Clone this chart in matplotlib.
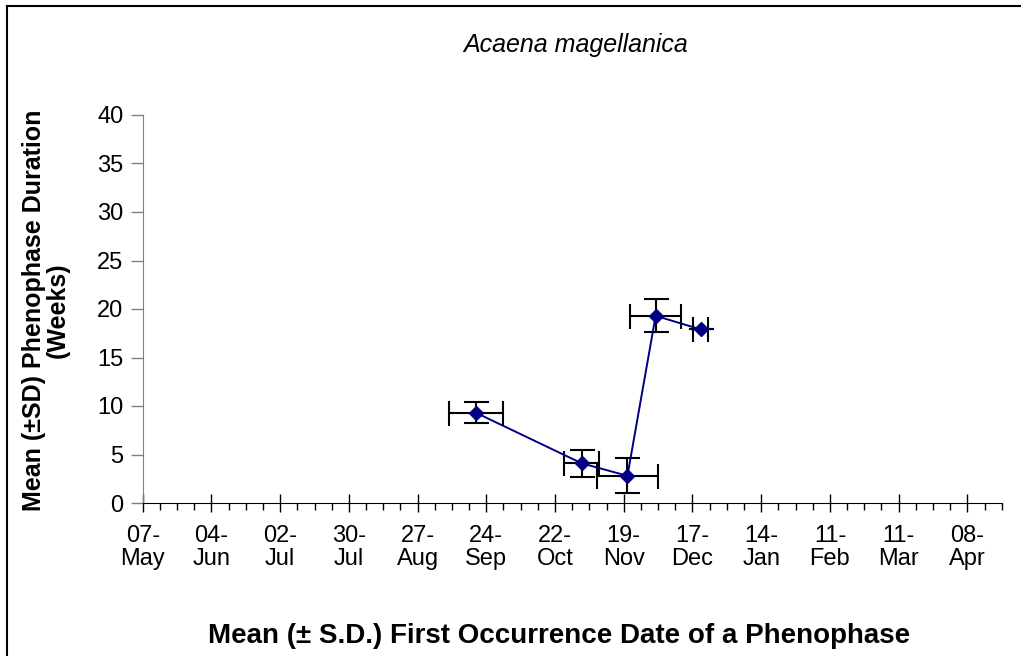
import matplotlib
matplotlib.use("Agg")
import matplotlib.pyplot as plt
from matplotlib.lines import Line2D
from matplotlib.ticker import FixedLocator, MultipleLocator

plt.rcParams["font.family"] = ["Liberation Sans", "DejaVu Sans"]

# mean first occurrence, days after 07-May, with SD
first_day = [135.8, 178.8, 197.5, 209.0, 227.3]
first_day_sd = [10.9, 7.1, 12.4, 10.5, 3.1]
# mean phenophase duration, weeks, with SD
duration = [9.3, 4.1, 2.8, 19.3, 17.9]
duration_sd = [1.1, 1.4, 1.8, 1.7, 0.0]

tick_days = [0, 28, 56, 84, 112, 140, 168, 196, 224, 252, 280, 308, 336]
tick_labels = ["07-\nMay", "04-\nJun", "02-\nJul", "30-\nJul", "27-\nAug",
               "24-\nSep", "22-\nOct", "19-\nNov", "17-\nDec", "14-\nJan",
               "11-\nFeb", "11-\nMar", "08-\nApr"]
y_ticks = [0, 5, 10, 15, 20, 25, 30, 35, 40]

W, H = 1021, 656
fig = plt.figure(figsize=(W / 100, H / 100), dpi=100)
ax = fig.add_axes([142.7 / W, 1 - 503 / H, (1001.7 - 142.7) / W, (503 - 115) / H])

ax.errorbar(first_day, duration, xerr=first_day_sd, yerr=duration_sd, fmt="none",
            ecolor="black", elinewidth=1.5, capsize=9, capthick=1.5, zorder=2)
ax.plot(first_day, duration, color="#000080", lw=1.4, marker="D", ms=7, zorder=3)

ax.set_xlim(0, 350)
ax.set_ylim(0, 40)
ax.xaxis.set_major_locator(FixedLocator(tick_days))
ax.set_xticklabels(tick_labels, fontsize=17, linespacing=1.1)
ax.xaxis.set_minor_locator(MultipleLocator(7))
ax.set_yticks(y_ticks)
ax.set_yticklabels([str(v) for v in y_ticks], fontsize=17)

for s in ("top", "right"):
    ax.spines[s].set_visible(False)
ax.spines["left"].set_color("#808080")
ax.spines["bottom"].set_color("black")
ax.tick_params(axis="x", which="major", direction="inout", length=13, width=1, pad=9)
ax.tick_params(axis="x", which="minor", direction="out", length=5, width=1)
ax.tick_params(axis="y", which="major", direction="out", length=9, width=1,
               color="#808080", pad=5)

fig.text(576 / W, 1 - 45 / H, "Acaena magellanica", style="italic", fontsize=18,
         ha="center", va="center")
fig.text(46 / W, 1 - 310 / H, "Mean (±SD) Phenophase Duration\n(Weeks)", rotation=90,
         fontsize=18, fontweight="bold", ha="center", va="center",
         multialignment="center", linespacing=1.0)
fig.text(559 / W, 1 - 636 / H, "Mean (± S.D.) First Occurrence Date of a Phenophase",
         fontsize=20, fontweight="bold", ha="center", va="center")

# frame of the chart area (left and top edges visible)
fig.add_artist(Line2D([7 / W, 7 / W], [0, 1 - 6 / H], transform=fig.transFigure,
                      color="black", lw=1.5))
fig.add_artist(Line2D([7 / W, 1], [1 - 6 / H, 1 - 6 / H], transform=fig.transFigure,
                      color="black", lw=1.5))

fig.savefig("out.png", dpi=100)
